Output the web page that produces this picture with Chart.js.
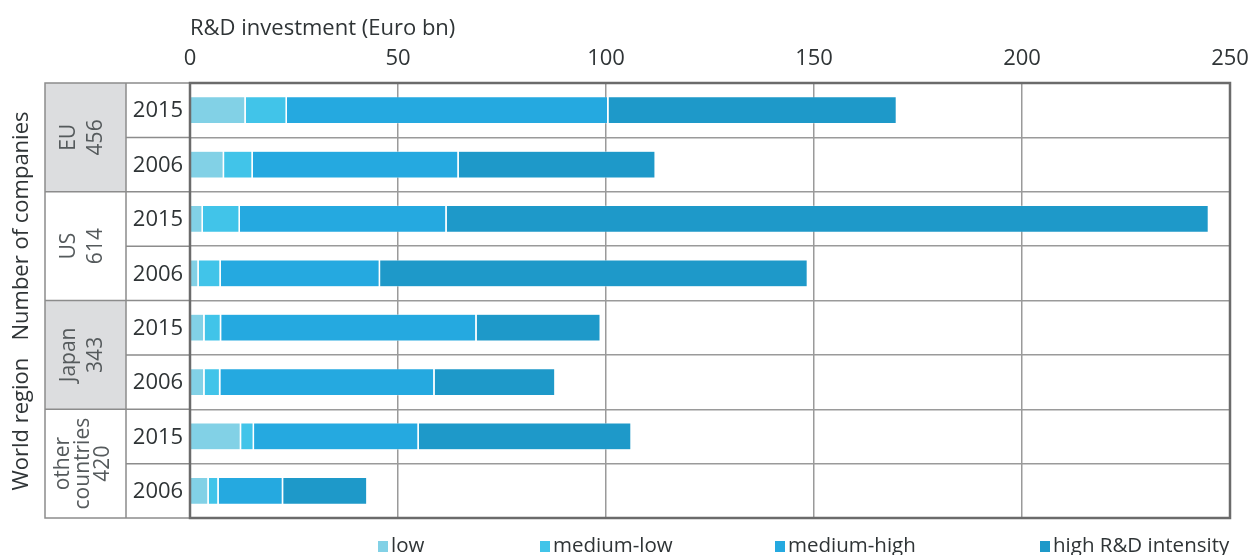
<!DOCTYPE html>
<html>
<head>
<meta charset="utf-8">
<script src="https://cdn.jsdelivr.net/npm/chart.js@4"></script>
<style>
  body { margin: 0; background: #fff; }
</style>
</head>
<body>
<canvas id="chart" width="1253" height="555"></canvas>
<script>
const regions = ["EU", "US", "Japan", "other\ncountries"];
const companies = [456, 614, 343, 420];
const years = ["2015", "2006"];
const seriesNames = ["low", "medium-low", "medium-high", "high R&D intensity"];

// R&D investment, Euro bn (row order: EU 2015, EU 2006, US 2015, ...)
const low =        [13.4, 8.2, 3.1, 2.1, 3.5, 3.5, 12.3, 4.5];
const mediumLow =  [9.9, 6.9, 8.9, 5.3, 4.0, 3.8, 3.1, 2.4];
const mediumHigh = [77.3, 49.5, 49.7, 38.3, 61.4, 51.5, 39.6, 15.5];
const high =       [69.4, 47.4, 183.3, 102.9, 29.9, 29.1, 51.2, 20.3];

const xMin = 0, xMax = 250, xStep = 50;

const colors = ["#82d1e6", "#41c4e9", "#25a9e0", "#1e99c9"];
const FONT = "'Open Sans', sans-serif";

const labels = [];
regions.forEach(r => years.forEach(y => labels.push(y)));

const values = [low, mediumLow, mediumHigh, high];

// left table (regions / years), frame and legend
const tablePlugin = {
  id: "table",
  beforeDraw(chart) {
    const { ctx, chartArea: a, scales: { y } } = chart;
    const rowH = (a.bottom - a.top) / labels.length;
    const x0 = 45, x1 = 126;
    ctx.save();

    regions.forEach((r, k) => {
      const top = y.getPixelForValue(k * 2) - rowH / 2;
      const bot = y.getPixelForValue(k * 2 + 1) + rowH / 2;
      if (k % 2 === 0) {
        ctx.fillStyle = "#dcdddf";
        ctx.fillRect(x0, top, x1 - x0, bot - top);
      }
    });

    // lines
    ctx.strokeStyle = "#8c8c8c";
    ctx.lineWidth = 1.5;
    ctx.strokeRect(x0, a.top, a.left - x0, a.bottom - a.top);
    ctx.beginPath();
    ctx.moveTo(x1, a.top);
    ctx.lineTo(x1, a.bottom);
    labels.forEach((l, i) => {
      if (i === 0) return;
      const yy = y.getPixelForValue(i) - rowH / 2;
      ctx.moveTo(i % 2 === 0 ? x0 : x1, yy);
      ctx.lineTo(a.left, yy);
    });
    ctx.stroke();

    // year labels
    ctx.fillStyle = "#2f3436";
    ctx.font = "22px " + FONT;
    ctx.textAlign = "center";
    ctx.textBaseline = "middle";
    labels.forEach((l, i) => {
      ctx.fillText(l, (x1 + a.left) / 2, y.getPixelForValue(i) + 1);
    });

    // region labels, rotated
    ctx.fillStyle = "#555a5c";
    ctx.font = "21px " + FONT;
    regions.forEach((r, k) => {
      const cy = (y.getPixelForValue(k * 2) + y.getPixelForValue(k * 2 + 1)) / 2;
      const lines = r.split("\n").concat(String(companies[k]));
      const lh = lines.length === 2 ? 27 : 20;
      ctx.save();
      ctx.translate(82, cy);
      ctx.rotate(-Math.PI / 2);
      lines.forEach((t, j) => {
        ctx.fillText(t, 0, (j - (lines.length - 1) / 2) * lh + 1);
      });
      ctx.restore();
    });

    // side title
    ctx.fillStyle = "#2f3436";
    ctx.font = "22px " + FONT;
    ctx.save();
    ctx.translate(22, 301);
    ctx.rotate(-Math.PI / 2);
    ctx.fillText("World region   Number of companies", 0, 0);
    ctx.restore();

    ctx.restore();
  },
  afterDatasetsDraw(chart) {
    const { ctx, chartArea: a } = chart;
    ctx.save();
    ctx.strokeStyle = "#6b6b6b";
    ctx.lineWidth = 2.5;
    ctx.strokeRect(a.left, a.top, a.right - a.left, a.bottom - a.top);

    // legend
    const legendX = [378, 540, 775, 1040];
    const ly = 547;
    ctx.font = "20.5px " + FONT;
    ctx.textAlign = "left";
    ctx.textBaseline = "middle";
    chart.data.datasets.forEach((ds, i) => {
      ctx.fillStyle = ds.backgroundColor;
      ctx.fillRect(legendX[i], ly - 6, 10, 11);
      ctx.fillStyle = "#2f3436";
      ctx.fillText(ds.label, legendX[i] + 13, ly - 1);
    });
    ctx.restore();
  }
};

new Chart(document.getElementById("chart"), {
  type: "bar",
  data: {
    labels: labels,
    datasets: seriesNames.map((name, i) => ({
      label: name,
      data: values[i],
      backgroundColor: colors[i],
      borderColor: "rgba(255,255,255,0.9)",
      borderWidth: { left: 0, right: 1.5, top: 0.5, bottom: 0.5 },
      borderSkipped: false,
      barPercentage: 0.49,
      categoryPercentage: 1
    }))
  },
  options: {
    indexAxis: "y",
    responsive: false,
    animation: false,
    layout: {
      padding: { left: 190, right: 23, top: 0, bottom: 37 }
    },
    plugins: {
      legend: { display: false },
      tooltip: { enabled: false }
    },
    scales: {
      x: {
        position: "top",
        stacked: true,
        min: xMin,
        max: xMax,
        ticks: {
          stepSize: xStep,
          color: "#2f3436",
          font: { family: FONT, size: 22 },
          padding: 11
        },
        grid: {
          color: "#9a9a9a",
          lineWidth: 1.5,
          drawTicks: false
        },
        border: { display: false },
        title: {
          display: true,
          text: "R&D investment (Euro bn)",
          align: "start",
          color: "#2f3436",
          font: { family: FONT, size: 22 },
          padding: { top: 16, bottom: 0 }
        },
        afterFit(scale) {
          scale.height = 83;
          scale.paddingLeft = 0;
          scale.paddingRight = 0;
        }
      },
      y: {
        stacked: true,
        ticks: { display: false },
        grid: {
          offset: true,
          color: "#9a9a9a",
          lineWidth: 1.5,
          drawTicks: false
        },
        border: { display: false }
      }
    }
  },
  plugins: [tablePlugin]
});
</script>
</body>
</html>
